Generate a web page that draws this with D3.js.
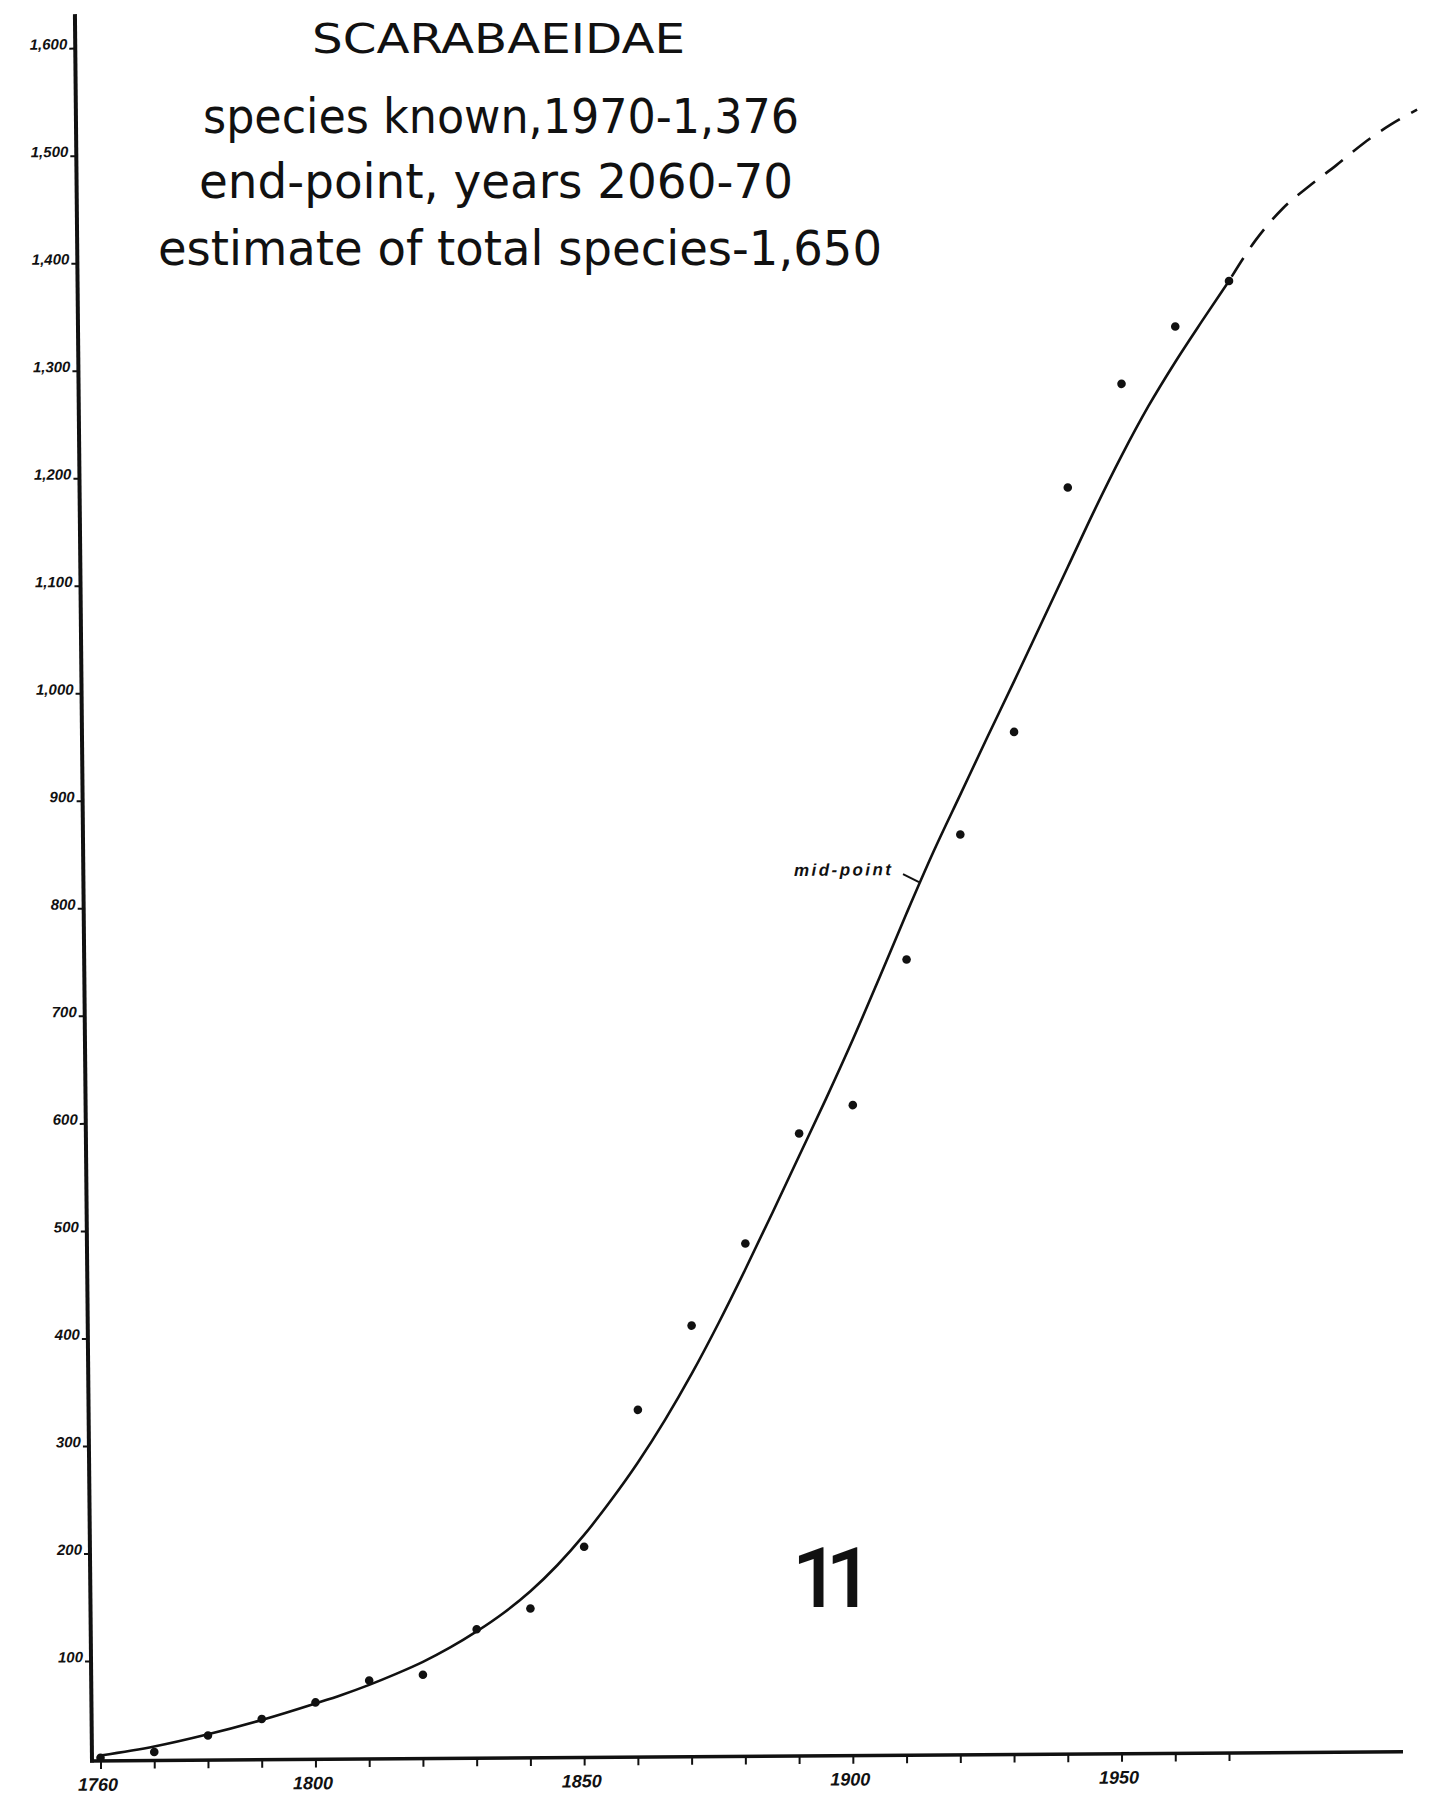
<!DOCTYPE html>
<html>
<head>
<meta charset="utf-8">
<script src="https://cdn.jsdelivr.net/npm/d3@7"></script>
<style>
  html, body { margin: 0; padding: 0; background: #ffffff; }
  svg { display: block; }
</style>
</head>
<body>
<svg id="chart" width="1430" height="1796"></svg>
<script>
// Species of Scarabaeidae known, counted once per decade
const years = [1760, 1770, 1780, 1790, 1800, 1810, 1820, 1830, 1840, 1850, 1860,
               1870, 1880, 1890, 1900, 1910, 1920, 1930, 1940, 1950, 1960, 1970];
const speciesKnown = [10, 15, 30, 45, 60, 80, 85, 127, 146, 203, 330,
                      408, 484, 586, 612, 747, 863, 958, 1185, 1281, 1334, 1376];

// Hand-fitted growth curve through the counts (solid)
const fitYears = [1760, 1770, 1780, 1790, 1800, 1805, 1810, 1815, 1820, 1825, 1830, 1835, 1840, 1845,
                  1850, 1855, 1860, 1865, 1870, 1875, 1880, 1885, 1890, 1895, 1900, 1905,
                  1910, 1915, 1920, 1925, 1930, 1935, 1940, 1945, 1950, 1955, 1960, 1965, 1970];
const fitValues = [12, 20, 31, 44, 59, 67, 76, 86, 97, 110, 125, 142, 162, 186,
                   214, 246, 281, 320, 363, 410, 460, 512, 565, 618, 673, 731,
                   790, 847, 900, 953, 1005, 1058, 1111, 1164, 1214, 1260, 1301, 1339, 1376];

// Projected continuation of the curve (dashed)
const projYears = [1970, 1975, 1980, 1985, 1990, 1995, 2000, 2005];
const projValues = [1376, 1414, 1443, 1464, 1483, 1503, 1520, 1534];

// Axis ticks
const yTicks = [100, 200, 300, 400, 500, 600, 700, 800, 900, 1000, 1100, 1200, 1300, 1400, 1500, 1600];
const xTicks = [1760, 1770, 1780, 1790, 1800, 1810, 1820, 1830, 1840, 1850, 1860,
                1870, 1880, 1890, 1900, 1910, 1920, 1930, 1940, 1950, 1960, 1970];
const xLabels = [1760, 1800, 1850, 1900, 1950];

// Headings
const titleLines = [
  "SCARABAEIDAE",
  "species known,1970-1,376",
  "end-point, years 2060-70",
  "estimate of total species-1,650"
];
const midPoint = { year: 1912.5, value: 819, label: "mid-point" };
const plateNumber = "11";

// ---- layout ----
const svg = d3.select("#chart");
const originX = 92, originY = 1761;   // corner where the two axes meet
const axisTop = 14, axisRight = 1403;

const x = d3.scaleLinear().domain([1760, 1970]).range([100.5, 1229]);
const y = d3.scaleLinear().domain([0, 1600]).range([1768.5, 48]);

const ink = "#111";
const handFont = "'Liberation Sans', Arial, sans-serif";

// whole drawing sits on a slightly tilted sheet
const plot = svg.append("g")
  .attr("transform", `translate(${originX},${originY}) skewY(-0.4) translate(${-originX},${-originY})`);

// ---- y axis (hand-ruled, leaning slightly) ----
const yAxisG = plot.append("g")
  .attr("transform", `translate(${originX},${originY}) skewX(0.56) translate(${-originX},${-originY})`);

yAxisG.append("line")
  .attr("x1", originX).attr("x2", originX)
  .attr("y1", axisTop).attr("y2", originY + 1.5)
  .attr("stroke", ink).attr("stroke-width", 4);

const yAx = yAxisG.append("g")
  .attr("transform", `translate(${originX},0)`)
  .call(d3.axisLeft(y).tickValues(yTicks).tickSize(6).tickPadding(2).tickFormat(d3.format(",")));
yAx.select(".domain").remove();
yAx.selectAll(".tick line").attr("stroke", ink).attr("stroke-width", 2);
yAx.selectAll(".tick text")
  .attr("fill", ink)
  .attr("dy", "0.05em")
  .style("font-family", handFont)
  .style("font-style", "italic")
  .style("font-weight", "bold")
  .style("font-size", "15px");

// ---- x axis ----
const xAxisG = plot.append("g").attr("transform", `translate(0,${originY})`);
xAxisG.append("line")
  .attr("x1", originX - 2).attr("x2", axisRight)
  .attr("y1", 0).attr("y2", 0)
  .attr("stroke", ink).attr("stroke-width", 3.5);
const xAx = xAxisG.append("g")
  .call(d3.axisBottom(x).tickValues(xTicks).tickSize(8).tickPadding(9)
    .tickFormat(d => xLabels.includes(d) ? String(d) : ""));
xAx.select(".domain").remove();
xAx.selectAll(".tick line").attr("stroke", ink).attr("stroke-width", 2);
xAx.selectAll(".tick text")
  .attr("fill", ink)
  .attr("dx", "-3")
  .style("font-family", handFont)
  .style("font-style", "italic")
  .style("font-weight", "bold")
  .style("font-size", "18px");

// ---- fitted curve ----
const line = d3.line()
  .x(d => x(d[0]))
  .y(d => y(d[1]))
  .curve(d3.curveMonotoneX);

plot.append("path")
  .datum(d3.zip(fitYears, fitValues))
  .attr("d", line)
  .attr("fill", "none")
  .attr("stroke", ink)
  .attr("stroke-width", 2.6)
  .attr("stroke-linecap", "round");

plot.append("path")
  .datum(d3.zip(projYears, projValues))
  .attr("d", line)
  .attr("fill", "none")
  .attr("stroke", ink)
  .attr("stroke-width", 2.6)
  .attr("stroke-dasharray", "22 13")
  .attr("stroke-dashoffset", "-5");

// ---- observed counts ----
plot.append("g")
  .selectAll("circle")
  .data(d3.zip(years, speciesKnown))
  .join("circle")
  .attr("cx", d => x(d[0]))
  .attr("cy", d => y(d[1]))
  .attr("r", 4.3)
  .attr("fill", ink);

// ---- mid-point marker ----
const mx = x(midPoint.year), my = y(midPoint.value);
const midG = plot.append("g").attr("transform", `translate(${mx},${my})`);
midG.append("line")
  .attr("x1", -17).attr("y1", -8)
  .attr("x2", -1).attr("y2", 0)
  .attr("stroke", ink).attr("stroke-width", 2);
midG.append("text")
  .attr("x", -126).attr("y", -7)
  .attr("textLength", 97)
  .attr("lengthAdjust", "spacing")
  .attr("fill", ink)
  .style("font-family", handFont)
  .style("font-style", "italic")
  .style("font-weight", "bold")
  .style("font-size", "17px")
  .text(midPoint.label);

// ---- headings ----
const titleSpecs = [
  { x: 312, y: 53,  size: 40, len: 373 },
  { x: 203, y: 133, size: 48, len: 596 },
  { x: 199, y: 198, size: 48, len: 594 },
  { x: 158, y: 265, size: 48, len: 724 }
];
svg.append("g")
  .selectAll("text")
  .data(titleLines)
  .join("text")
  .attr("x", (d, i) => titleSpecs[i].x)
  .attr("y", (d, i) => titleSpecs[i].y)
  .attr("textLength", (d, i) => titleSpecs[i].len)
  .attr("lengthAdjust", "spacingAndGlyphs")
  .attr("fill", ink)
  .style("font-family", "'DejaVu Sans', sans-serif")
  .style("font-size", (d, i) => titleSpecs[i].size + "px")
  .text(d => d);

// plate number
svg.append("text")
  .attr("x", 792).attr("y", 1607)
  .attr("fill", ink)
  .style("font-family", "Roboto, 'Open Sans', sans-serif")
  .style("font-weight", "500")
  .style("font-size", "84px")
  .style("letter-spacing", "-14px")
  .text(plateNumber);
</script>
</body>
</html>
